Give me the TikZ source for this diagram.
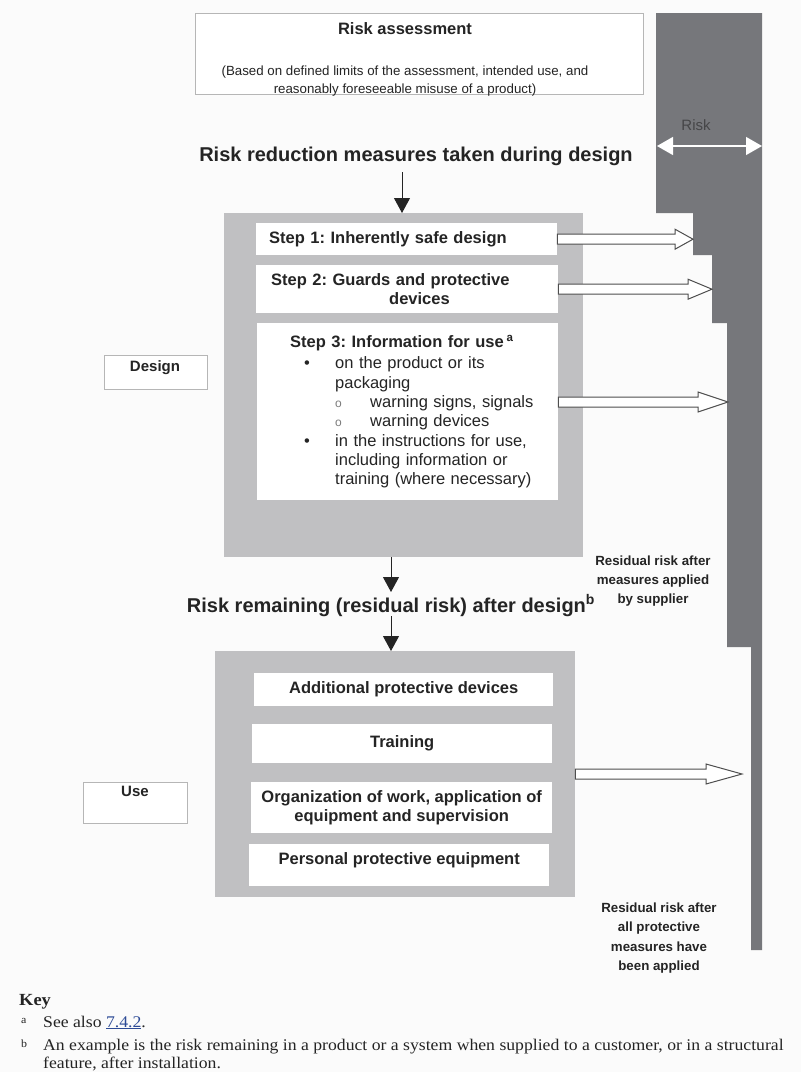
\documentclass[tikz,border=0pt]{standalone}
\usepackage{fontspec}
\setmainfont{Liberation Sans}
\newfontfamily\keyfont[FakeStretch=1.085]{Liberation Serif}
\usetikzlibrary{arrows.meta,calc}
\newcommand\fs[2]{\fontsize{#1pt}{#2pt}\selectfont}
\frenchspacing

\definecolor{bg}{RGB}{251,251,251}
\definecolor{riskbar}{RGB}{118,119,123}
\definecolor{panel}{RGB}{192,192,194}
\definecolor{frame}{RGB}{182,182,182}
\definecolor{ink}{RGB}{36,36,36}
\definecolor{arrowline}{RGB}{78,78,78}
\definecolor{riskink}{RGB}{70,70,72}
\definecolor{link}{RGB}{45,75,150}

\begin{document}
\begin{tikzpicture}[x=1pt,y=-1pt,
  every node/.style={text=ink},
  frame box/.style={draw=frame, line width=1.1pt, fill=white, anchor=north west, inner sep=0pt},
  panel box/.style={fill=panel, anchor=north west, inner sep=0pt},
  item box/.style={fill=white, anchor=north west, inner sep=0pt},
  textline/.style={anchor=base, inner sep=0pt},
  heading/.style={textline, font=\bfseries\fs{20}{24}},
  boldtext/.style={font=\bfseries\fs{16.5}{19}},
  downarrow/.style={draw=ink, line width=1pt, -{Triangle[width=16pt,length=15pt]}},
  blockarrow/.style={draw=arrowline, fill=white, line width=1pt, line join=miter,
    to path={let \p1=(\tikztostart), \p2=(\tikztotarget) in
      (\x1,\y1+5pt) -- (\x2-#1,\y1+5pt) -- (\x2-#1,\y1+10pt) -- (\x2,\y1)
      -- (\x2-#1,\y1-10pt) -- (\x2-#1,\y1-5pt) -- (\x1,\y1-5pt) -- cycle}},
]
% page
\path[use as bounding box, fill=bg] (0,0) rectangle (801,1072);

% risk bar, stepping down as measures are applied
\fill[riskbar] (656,13) -- (762,13) -- (762,950) -- (751,950) -- (751,647)
  -- (727,647) -- (727,323) -- (712,323) -- (712,255) -- (693,255)
  -- (693,213) -- (656,213) -- cycle;
\coordinate (riskL) at (657,146);
\coordinate (riskR) at (762,146);
\draw[white, line width=1.3pt,
  {Triangle[width=18pt,length=16pt]}-{Triangle[width=18pt,length=16pt]}] (riskL) -- (riskR);
\node[textline, font=\fs{15}{18}, text=riskink] (risklabel) at (696,130) {Risk};

% risk assessment
\node[frame box, minimum width=448pt, minimum height=81pt] (ra) at (195,13) {};
\node[textline, font=\bfseries\fs{16.5}{20}] (ratitle) at (405,34.5) {Risk assessment};
% multi-line text nodes are placed by the baseline of their last line
\node[textline, align=center, font=\fs{13.3}{18.3}] (rasub) at (405,93.3)
  {(Based on defined limits of the assessment, intended use, and\\
   reasonably foreseeable misuse of a product)};

% design stage
\node[heading] (h1) at (416,161) {Risk reduction measures taken during design};
\node[panel box, minimum width=359pt, minimum height=344pt] (design) at (224,213) {};
\coordinate (h1foot) at (402,172);
\draw[downarrow] (h1foot) -- (design.north -| h1foot);

\node[item box, boldtext, minimum width=301pt, minimum height=32pt, text width=301pt, align=left]
  (s1) at (256,223) {\hspace*{13pt}Step 1: Inherently safe design};
\node[item box, boldtext, minimum width=302pt, minimum height=48pt, text width=302pt, align=left]
  (s2) at (256,265) {\hspace*{15pt}Step 2: Guards and protective\\\hspace*{133pt}devices};
\node[item box, minimum width=301pt, minimum height=177pt, text width=301pt, align=left,
  font=\fs{16.5}{19.3}] (s3) at (257,323) {%
  \hspace*{33pt}\textbf{Step 3: Information for use}\,\textsuperscript{\textbf{a}}\\[1.7pt]
  \hspace*{47pt}\makebox[31pt][l]{•}on the product or its\\
  \hspace*{78pt}packaging\\
  \hspace*{78pt}\makebox[35pt][l]{\textcolor{ink!60}{\fs{12}{12}o}}warning signs, signals\\
  \hspace*{78pt}\makebox[35pt][l]{\textcolor{ink!60}{\fs{12}{12}o}}warning devices\\
  \hspace*{47pt}\makebox[31pt][l]{•}in the instructions for use,\\
  \hspace*{78pt}including information or\\
  \hspace*{78pt}training (where necessary)};

\node[frame box, minimum width=103pt, minimum height=34pt] (dlab) at (104,355) {};
\node[textline, font=\bfseries\fs{15}{18}] (dlabtext) at (155,371.5) {Design};

\coordinate (r1) at (693,239);
\coordinate (r2) at (712,289);
\coordinate (r3) at (728,402);
\path[blockarrow=18pt] (s1.east) to (r1);
\path[blockarrow=24pt] (s2.east) to (r2);
\path[blockarrow=30pt] (s3.east |- r3) to (r3);

\node[textline, align=center, font=\bfseries\fs{13.3}{19}] (res1) at (653,603)
  {Residual risk after\\measures applied\\by supplier};

% residual risk after design
\node[heading] (h2) at (391,612) {Risk remaining (residual risk) after design\textsuperscript{b}};
\coordinate (h2top) at (391,592);
\coordinate (h2foot) at (391,616);
\draw[downarrow] (design.south -| h2top) -- (h2top);

% use stage
\node[panel box, minimum width=360pt, minimum height=246pt] (use) at (215,651) {};
\draw[downarrow] (h2foot) -- (use.north -| h2foot);

\node[item box, boldtext, minimum width=299pt, minimum height=33pt] (u1) at (254,673)
  {Additional protective devices};
\node[item box, boldtext, minimum width=300pt, minimum height=39pt] (u2) at (252,724)
  {Training};
\node[item box, boldtext, minimum width=301pt, minimum height=51pt, align=center,
  font=\bfseries\fs{16.5}{18.5}] (u3) at (251,782)
  {Organization of work, application of\\equipment and supervision};
\node[item box, boldtext, minimum width=300pt, minimum height=42pt] (u4) at (249,844)
  {\raisebox{5pt}[12pt][3.5pt]{Personal protective equipment}};

\node[frame box, minimum width=104pt, minimum height=41pt] (ulab) at (83,782) {};
\node[textline, font=\bfseries\fs{15}{18}] (ulabtext) at (135,796.7) {Use};

\coordinate (r4) at (742,774);
\path[blockarrow=36pt] (use.east |- r4) to (r4);

\node[textline, align=center, font=\bfseries\fs{13.3}{19.3}] (res2) at (659,970.4)
  {Residual risk after\\all protective\\measures have\\been applied};

% key
\node[anchor=base west, inner sep=0pt, font=\keyfont\bfseries\fs{17}{20}] (key) at (19,1005) {Key};
\node[anchor=base west, inner sep=0pt, font=\keyfont\fs{11}{12}] (fa) at (21,1023) {a};
\node[anchor=base west, inner sep=0pt, font=\keyfont\fs{16.3}{18}] (fatext) at (43,1027)
  {See also \textcolor{link}{\underline{7.4.2}}.};
\node[anchor=base west, inner sep=0pt, font=\keyfont\fs{11}{12}] (fb) at (21,1047) {b};
\node[anchor=base west, inner sep=0pt, align=left, font=\keyfont\fs{16.3}{17.5}] (fbtext) at (43,1068)
  {An example is the risk remaining in a product or a system when supplied to a customer, or in a structural\\
   feature, after installation.};
\end{tikzpicture}
\end{document}
